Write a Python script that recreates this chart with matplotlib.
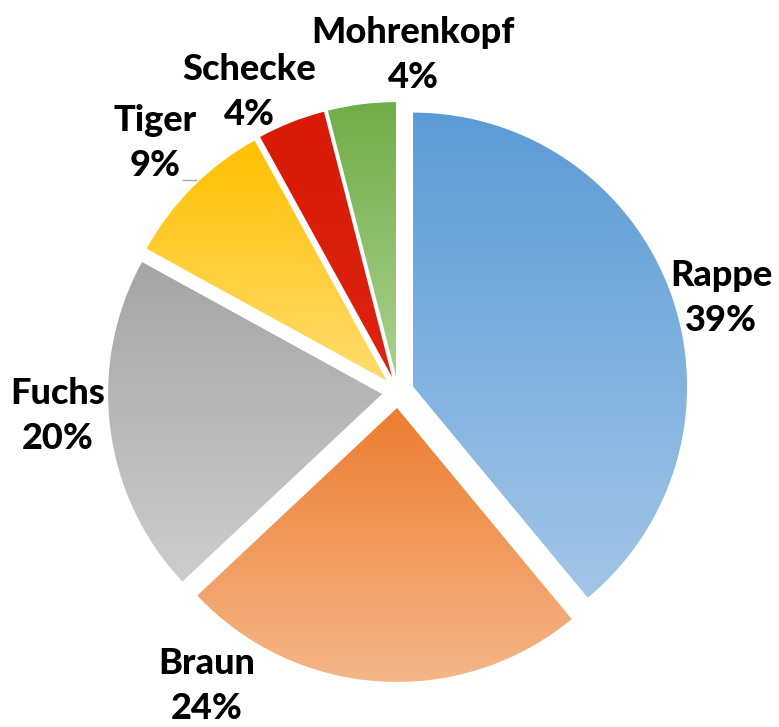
import numpy as np
import matplotlib
matplotlib.use("Agg")
import matplotlib.pyplot as plt
from matplotlib.colors import to_rgb

labels = ["Rappe", "Braun", "Fuchs", "Tiger", "Schecke", "Mohrenkopf"]
shares = [39, 24, 20, 9, 4, 4]
# gradient top -> bottom per slice
top_colors = ["#5B9BD5", "#ED7D31", "#A5A5A5", "#FFC000", "#D81A06", "#70AD47"]
bottom_colors = ["#A2C6E8", "#F5B688", "#CDCDCD", "#FFDC6E", "#DC2410", "#A9D18E"]

plt.rcParams["font.family"] = ["Lato", "DejaVu Sans"]

W, H = 779, 727
CX, CY, R = 398, 392, 274  # pie centre / radius in pixels


def px(x, y):
    return (x - CX) / R, (CY - y) / R


fig = plt.figure(figsize=(W / 100, H / 100), dpi=100)
ax = fig.add_axes([0, 0, 1, 1])

wedges, _ = ax.pie(shares, startangle=90, counterclock=False,
                   explode=[16 / R] * len(shares), radius=1.0)

for w, c0, c1 in zip(wedges, top_colors, bottom_colors):
    ext = w.get_path().get_extents(w.get_patch_transform())
    grad = np.linspace(to_rgb(c0), to_rgb(c1), 256).reshape(256, 1, 3)
    im = ax.imshow(grad, extent=[ext.x0, ext.x1, ext.y0, ext.y1],
                   origin="upper", aspect="auto", interpolation="bilinear")
    im.set_clip_path(w)
    w.set_facecolor("none")
    w.set_edgecolor("none")

# data labels (pixel positions of the two-line label centres)
label_pos = [(721, 298), (207, 686), (58, 416), (155, 143), (249, 92), (413, 55)]
for name, val, (lx, ly) in zip(labels, shares, label_pos):
    x, y = px(lx, ly)
    ax.text(x, y, f"{name}\n{val}%", ha="center", va="center",
            fontsize=26, fontweight="black", linespacing=1.45, color="black")

# tiny leader line next to Tiger
(x0, y0), (x1, y1) = px(183, 180), px(196, 180)
ax.plot([x0, x1], [y0, y1], color="#A6A6A6", lw=1)

ax.set_xlim(-CX / R, (W - CX) / R)
ax.set_ylim(-(H - CY) / R, CY / R)
ax.set_aspect("equal")
ax.axis("off")

fig.savefig("out.png", dpi=100)
